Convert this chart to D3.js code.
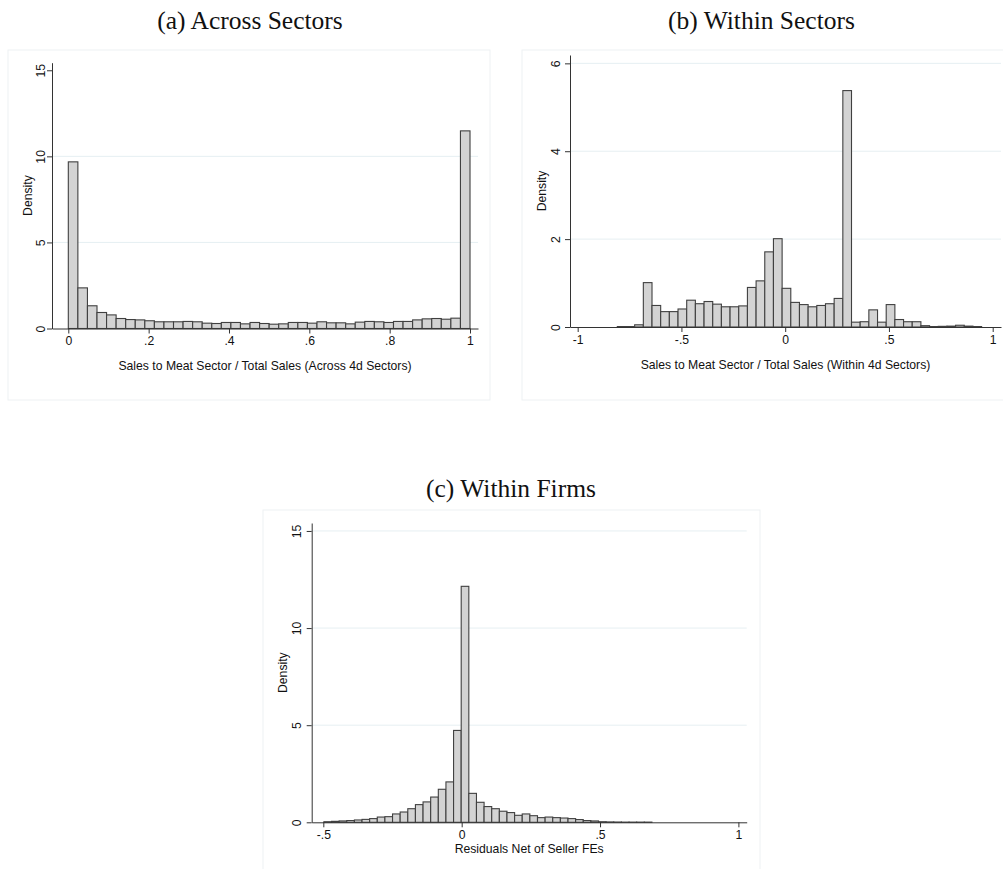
<!DOCTYPE html>
<html>
<head>
<meta charset="utf-8">
<script src="https://cdn.jsdelivr.net/npm/d3@7"></script>
<style>
  html, body { margin: 0; padding: 0; background: #fff; }
  svg { display: block; }
</style>
</head>
<body>
<svg id="chart" width="1003" height="869"></svg>
<script>
// ---------- DATA ----------
const panelTitles = ["(a) Across Sectors", "(b) Within Sectors", "(c) Within Firms"];
const xAxisTitles = [
  "Sales to Meat Sector / Total Sales (Across 4d Sectors)",
  "Sales to Meat Sector / Total Sales (Within 4d Sectors)",
  "Residuals Net of Seller FEs"
];
const yAxisTitle = "Density";

// (a) histogram: 42 bins starting at 0
const aBinStart = 0, aBinWidth = 1 / 42;
const aDensity = [9.68, 2.36, 1.32, 0.93, 0.79, 0.58, 0.52, 0.50, 0.45, 0.39,
                  0.39, 0.39, 0.41, 0.39, 0.31, 0.29, 0.35, 0.35, 0.27, 0.35,
                  0.29, 0.25, 0.27, 0.35, 0.35, 0.31, 0.39, 0.33, 0.33, 0.27,
                  0.37, 0.41, 0.39, 0.35, 0.41, 0.41, 0.50, 0.56, 0.58, 0.54,
                  0.60, 11.48];
const aXTicks = [0, 0.2, 0.4, 0.6, 0.8, 1];
const aYTicks = [0, 5, 10, 15];

// (b) histogram: 42 bins
const bBinStart = -0.809, bBinWidth = 0.0418;
const bDensity = [0.01, 0.01, 0.05, 1.01, 0.49, 0.35, 0.35, 0.41, 0.61, 0.53,
                  0.58, 0.52, 0.46, 0.46, 0.48, 0.90, 1.05, 1.71, 2.01, 0.88,
                  0.56, 0.51, 0.46, 0.49, 0.53, 0.65, 5.38, 0.11, 0.12, 0.39,
                  0.11, 0.51, 0.17, 0.12, 0.12, 0.03, 0.01, 0.015, 0.02, 0.04,
                  0.02, 0.01];
const bXTicks = [-1, -0.5, 0, 0.5, 1];
const bYTicks = [0, 2, 4, 6];

// (c) histogram: 43 bins
const cBinStart = -0.498, cBinWidth = 0.02757;
const cDensity = [0.03, 0.05, 0.07, 0.09, 0.12, 0.15, 0.19, 0.27, 0.29, 0.43,
                  0.53, 0.70, 0.91, 1.05, 1.30, 1.70, 2.08, 4.73, 12.15, 1.49,
                  1.03, 0.81, 0.70, 0.57, 0.50, 0.36, 0.43, 0.34, 0.24, 0.27,
                  0.24, 0.22, 0.19, 0.14, 0.09, 0.07, 0.03, 0.02, 0.015, 0.01,
                  0.01, 0.01, 0.01];
const cXTicks = [-0.5, 0, 0.5, 1];
const cYTicks = [0, 5, 10, 15];

// ---------- LAYOUT ----------
const panels = [
  { title: panelTitles[0], titleX: 250, titleY: 29,
    box: [8, 50, 482, 350],
    xDom: [-0.0406, 1.0199], xRange: [52, 478],
    yDom: [0, 15.44], yRange: [328.5, 62.7],
    start: aBinStart, width: aBinWidth, values: aDensity,
    xTicks: aXTicks, yTicks: aYTicks, grid: [5, 10],
    xTitle: xAxisTitles[0], xTitleY: 367, xLabelY: 342,
    yTitleX: 28.5, yLabelX: 41.5 },
  { title: panelTitles[1], titleX: 761.5, titleY: 29,
    box: [522, 50, 500, 350],
    xDom: [-1.037, 1.04], xRange: [570, 1001],
    yDom: [0, 6.19], yRange: [327, 55],
    start: bBinStart, width: bBinWidth, values: bDensity,
    xTicks: bXTicks, yTicks: bYTicks, grid: [2, 4, 6],
    xTitle: xAxisTitles[1], xTitleY: 366, xLabelY: 340.5,
    yTitleX: 543, yLabelX: 556.5 },
  { title: panelTitles[2], titleX: 511, titleY: 497,
    box: [263, 510, 497, 365],
    xDom: [-0.542, 1.030], xRange: [311.7, 746.7],
    yDom: [0, 15.41], yRange: [822.3, 523],
    start: cBinStart, width: cBinWidth, values: cDensity,
    xTicks: cXTicks, yTicks: cYTicks, grid: [5, 10, 15],
    xTitle: xAxisTitles[2], xTitleY: 850, xLabelY: 835.5,
    yTitleX: 284, yLabelX: 297.5 }
];

const svg = d3.select("#chart");
const fmt = v => {
  if (v === 0) return "0";
  let s = String(v);
  return s.replace(/^(-?)0\./, "$1.");
};
const sans = "'Liberation Sans', Arial, Helvetica, sans-serif";
const serif = "'Liberation Serif', 'Times New Roman', Times, serif";

panels.forEach(p => {
  const g = svg.append("g");
  // panel frame
  g.append("rect")
    .attr("x", p.box[0]).attr("y", p.box[1])
    .attr("width", p.box[2]).attr("height", p.box[3])
    .attr("fill", "#fff").attr("stroke", "#eef1f3").attr("stroke-width", 1);

  // title
  svg.append("text")
    .attr("x", p.titleX).attr("y", p.titleY)
    .attr("text-anchor", "middle")
    .attr("font-family", serif).attr("font-size", 25.5)
    .attr("fill", "#111")
    .text(p.title);

  const x = d3.scaleLinear().domain(p.xDom).range(p.xRange);
  const y = d3.scaleLinear().domain(p.yDom).range(p.yRange);

  // gridlines
  g.selectAll("line.grid").data(p.grid).enter().append("line")
    .attr("x1", p.xRange[0]).attr("x2", p.xRange[1])
    .attr("y1", d => y(d)).attr("y2", d => y(d))
    .attr("stroke", "#e6eff2").attr("stroke-width", 1);

  // bars
  const bins = p.values.map((v, i) => ({
    x0: p.start + i * p.width, x1: p.start + (i + 1) * p.width, v: v
  }));
  g.selectAll("rect.bar").data(bins).enter().append("rect")
    .attr("x", d => x(d.x0))
    .attr("y", d => y(d.v))
    .attr("width", d => x(d.x1) - x(d.x0))
    .attr("height", d => y(0) - y(d.v))
    .attr("fill", "#d3d3d3")
    .attr("stroke", "#404040")
    .attr("stroke-width", 1.1);

  // x axis
  const xAxis = d3.axisBottom(x).tickValues(p.xTicks).tickFormat(fmt)
    .tickSizeInner(5).tickSizeOuter(0);
  const xa = g.append("g").attr("transform", `translate(0,${p.yRange[0]})`).call(xAxis);
  xa.select(".domain").attr("stroke", "#333");
  xa.selectAll(".tick line").attr("stroke", "#333");
  xa.selectAll(".tick text")
    .attr("font-family", sans).attr("font-size", 12.2).attr("fill", "#111")
    .attr("dy", null)
    .attr("y", p.xLabelY - p.yRange[0]).attr("dominant-baseline", "middle");

  // y axis
  const yAxis = d3.axisLeft(y).tickValues(p.yTicks).tickFormat(fmt)
    .tickSizeInner(5).tickSizeOuter(0);
  const ya = g.append("g").attr("transform", `translate(${p.xRange[0]},0)`).call(yAxis);
  ya.select(".domain").attr("stroke", "#333");
  ya.selectAll(".tick line").attr("stroke", "#333");
  ya.selectAll(".tick text")
    .attr("font-family", sans).attr("font-size", 12.2).attr("fill", "#111")
    .attr("x", null).attr("dy", null)
    .attr("text-anchor", "middle")
    .attr("dominant-baseline", "middle")
    .attr("transform", `translate(${p.yLabelX - p.xRange[0]},0) rotate(-90)`);

  // axis titles
  svg.append("text")
    .attr("x", (p.xRange[0] + p.xRange[1]) / 2).attr("y", p.xTitleY)
    .attr("text-anchor", "middle").attr("dominant-baseline", "middle")
    .attr("font-family", sans).attr("font-size", 12.2).attr("fill", "#111")
    .text(p.xTitle);
  const yMid = (p.yRange[0] + p.yRange[1]) / 2;
  svg.append("text")
    .attr("transform", `translate(${p.yTitleX},${yMid}) rotate(-90)`)
    .attr("text-anchor", "middle").attr("dominant-baseline", "middle")
    .attr("font-family", sans).attr("font-size", 12.2).attr("fill", "#111")
    .text(yAxisTitle);
});
</script>
</body>
</html>
